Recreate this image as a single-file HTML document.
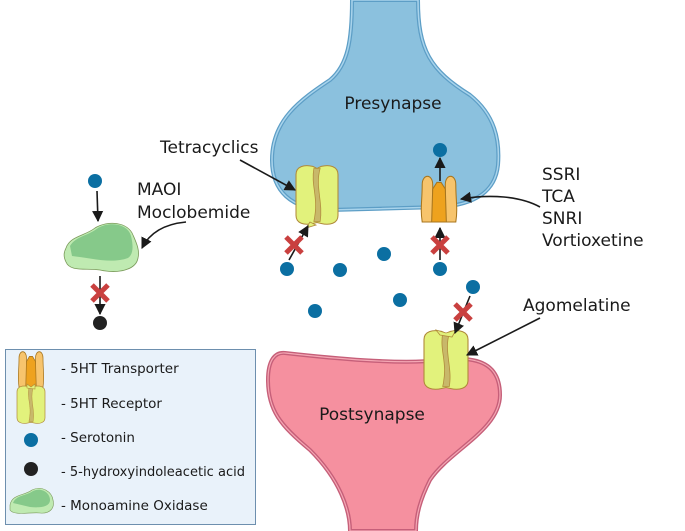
<!DOCTYPE html>
<html><head><meta charset="utf-8"><style>
html,body{margin:0;padding:0;background:#fff}
svg{display:block}
text{font-family:"DejaVu Sans","Liberation Sans",sans-serif;fill:#1a1a1a}
</style></head><body>
<svg width="685" height="531" viewBox="0 0 685 531" xmlns="http://www.w3.org/2000/svg">
<defs>
<marker id="ah" viewBox="0 0 10 10" refX="9" refY="5" markerWidth="7" markerHeight="7" orient="auto-start-reverse"><path d="M0,0 L10,5 L0,10 z" fill="#1a1a1a"/></marker>
<g id="rec">
<path d="M-20,-22 C-20,-30 -12,-32 -4,-30 L0,-28 L4,-30 C12,-32 20,-30 20,-22 L20,18 C20,26 12,28 4,26 L0,25 L-4,26 C-12,28 -20,26 -20,18 Z" fill="#e2f27c" stroke="#b08a3a" stroke-width="1"/>
<path d="M-3,-28 C-6,-10 2,0 -3,24 L3,24 C6,5 -2,-10 3,-28 Z" fill="#c8b86a" stroke="#b08a3a" stroke-width="0.7"/>
</g>
<g id="tra">
<path d="M-16,-14 C-16,-24 -6,-24 -6,-14 L-6,20 L-16,20 C-18,8 -16,0 -16,-14 Z" fill="#f7c46c" stroke="#a8761e" stroke-width="1"/>
<path d="M16,-14 C16,-24 6,-24 6,-14 L6,20 L16,20 C18,8 16,0 16,-14 Z" fill="#f7c46c" stroke="#a8761e" stroke-width="1"/>
<path d="M-6,-10 L-2,-16 L2,-16 L6,-10 L7,20 L-7,20 Z" fill="#eea21e" stroke="#a8761e" stroke-width="1"/>
</g>
<g id="x"><path d="M-8,-8 L8,8 M8,-8 L-8,8" stroke="#c9403f" stroke-width="5"/></g>
</defs>

<path d="M352,0 L418,0 C418,50 430,70 470,95 C495,115 500,140 498,165 C495,195 470,205 440,207 L330,210 C290,210 272,190 272,160 C272,120 300,100 330,80 C348,65 352,40 352,0 Z" fill="#8bc1de" stroke="#5d9ec6" stroke-width="4"/>
<path d="M352,0 L418,0 C418,50 430,70 470,95 C495,115 500,140 498,165 C495,195 470,205 440,207 L330,210 C290,210 272,190 272,160 C272,120 300,100 330,80 C348,65 352,40 352,0 Z" fill="none" stroke="#a9d4ec" stroke-width="1.5"/>
<text x="393" y="109" font-size="17" text-anchor="middle">Presynapse</text>

<path d="M285,353 C330,358 400,365 440,360 C480,355 500,365 500,395 C500,430 450,450 430,480 C420,500 416,515 416,531 L350,531 C350,510 340,480 310,450 C280,425 268,410 268,380 C268,360 275,352 285,353 Z" fill="#f5909f" stroke="#c65f79" stroke-width="4"/>
<path d="M285,353 C330,358 400,365 440,360 C480,355 500,365 500,395 C500,430 450,450 430,480 C420,500 416,515 416,531 L350,531 C350,510 340,480 310,450 C280,425 268,410 268,380 C268,360 275,352 285,353 Z" fill="none" stroke="#f4a7b4" stroke-width="1.2"/>
<text x="372" y="420" font-size="17" text-anchor="middle">Postsynapse</text>

<use href="#rec" transform="translate(317,197) scale(1.05,1.02)"/>
<path d="M310,222 L306,228 L316,225 Z" fill="#e2f27c" stroke="#b08a3a" stroke-width="0.8"/>
<use href="#tra" transform="translate(439,200) scale(1.05,1.1)"/>
<use href="#rec" transform="translate(446,362) scale(1.1,1.02)"/>
<path d="M440,335 L436,330 L446,333 L456,330 L452,337 Z" fill="#e2f27c" stroke="#b08a3a" stroke-width="0.8"/>

<g fill="#0b6fa2">
<circle cx="95" cy="181" r="7"/><circle cx="440" cy="150" r="7"/>
<circle cx="287" cy="269" r="7"/><circle cx="340" cy="270" r="7"/><circle cx="384" cy="254" r="7"/>
<circle cx="440" cy="269" r="7"/><circle cx="315" cy="311" r="7"/><circle cx="400" cy="300" r="7"/>
<circle cx="473" cy="287" r="7"/>
</g>
<circle cx="100" cy="323" r="7" fill="#222"/>

<path d="M66,248 C70,236 85,236 95,228 C108,220 128,222 133,235 C136,242 140,250 138,258 C136,270 118,274 100,270 C86,268 70,272 66,262 C63,256 64,252 66,248 Z" fill="#bfeab1" stroke="#7a9a5a" stroke-width="0.8"/>
<path d="M70,246 C76,236 88,236 98,228 C110,221 128,224 131,236 C133,244 134,254 128,258 C112,264 90,258 72,256 Z" fill="#86c98a"/>

<g stroke="#1a1a1a" stroke-width="1.6" fill="none">
<line x1="97" y1="191" x2="98" y2="221" marker-end="url(#ah)"/>
<line x1="100" y1="276" x2="100" y2="314" marker-end="url(#ah)"/>
<path d="M186,222 C165,224 150,232 142,248" marker-end="url(#ah)"/>
<line x1="240" y1="160" x2="295" y2="190" marker-end="url(#ah)"/>
<line x1="289" y1="260" x2="308" y2="226" marker-end="url(#ah)"/>
<line x1="440" y1="181" x2="440" y2="158" marker-end="url(#ah)"/>
<line x1="440" y1="260" x2="440" y2="228" marker-end="url(#ah)"/>
<path d="M540,207 C520,196 490,194 461,199" marker-end="url(#ah)"/>
<line x1="470" y1="296" x2="455" y2="333" marker-end="url(#ah)"/>
<line x1="540" y1="318" x2="467" y2="355" marker-end="url(#ah)"/>
</g>
<use href="#x" transform="translate(100,293)"/>
<use href="#x" transform="translate(294,245)"/>
<use href="#x" transform="translate(440,245)"/>
<use href="#x" transform="translate(463,312)"/>

<text x="160" y="153" font-size="17">Tetracyclics</text>
<text x="137" y="195" font-size="17">MAOI</text>
<text x="137" y="218" font-size="17">Moclobemide</text>
<text x="542" y="180" font-size="17">SSRI</text>
<text x="542" y="202" font-size="17">TCA</text>
<text x="542" y="224" font-size="17">SNRI</text>
<text x="542" y="246" font-size="17">Vortioxetine</text>
<text x="523" y="311" font-size="17">Agomelatine</text>

<rect x="5.5" y="349.5" width="250" height="175" fill="#e9f2fa" stroke="#6d8fae" stroke-width="1"/>
<use href="#tra" transform="translate(31,370) scale(0.75,0.85)"/>
<use href="#rec" transform="translate(31,406) scale(0.7,0.65)"/>
<path d="M27,388 L27,384 L31,387 L35,384 L35,389 Z" fill="#e2f27c" stroke="#b08a3a" stroke-width="0.6"/>
<circle cx="31" cy="440" r="7" fill="#0b6fa2"/>
<circle cx="31" cy="469" r="7" fill="#222"/>
<path d="M10,505 C12,494 24,496 32,490 C42,485 52,492 53,500 C55,508 50,514 40,513 C30,512 14,516 10,510 Z" fill="#bfeab1" stroke="#7a9a5a" stroke-width="0.6"/>
<path d="M13,503 C16,495 26,496 33,491 C42,487 50,493 50,500 C50,507 40,508 30,507 Z" fill="#86c98a"/>
<g font-size="13.5">
<text x="61" y="373">- 5HT Transporter</text>
<text x="61" y="408">- 5HT Receptor</text>
<text x="61" y="442">- Serotonin</text>
<text x="61" y="476" textLength="184" lengthAdjust="spacingAndGlyphs">- 5-hydroxyindoleacetic acid</text>
<text x="61" y="510">- Monoamine Oxidase</text>
</g>
</svg>
</body></html>
